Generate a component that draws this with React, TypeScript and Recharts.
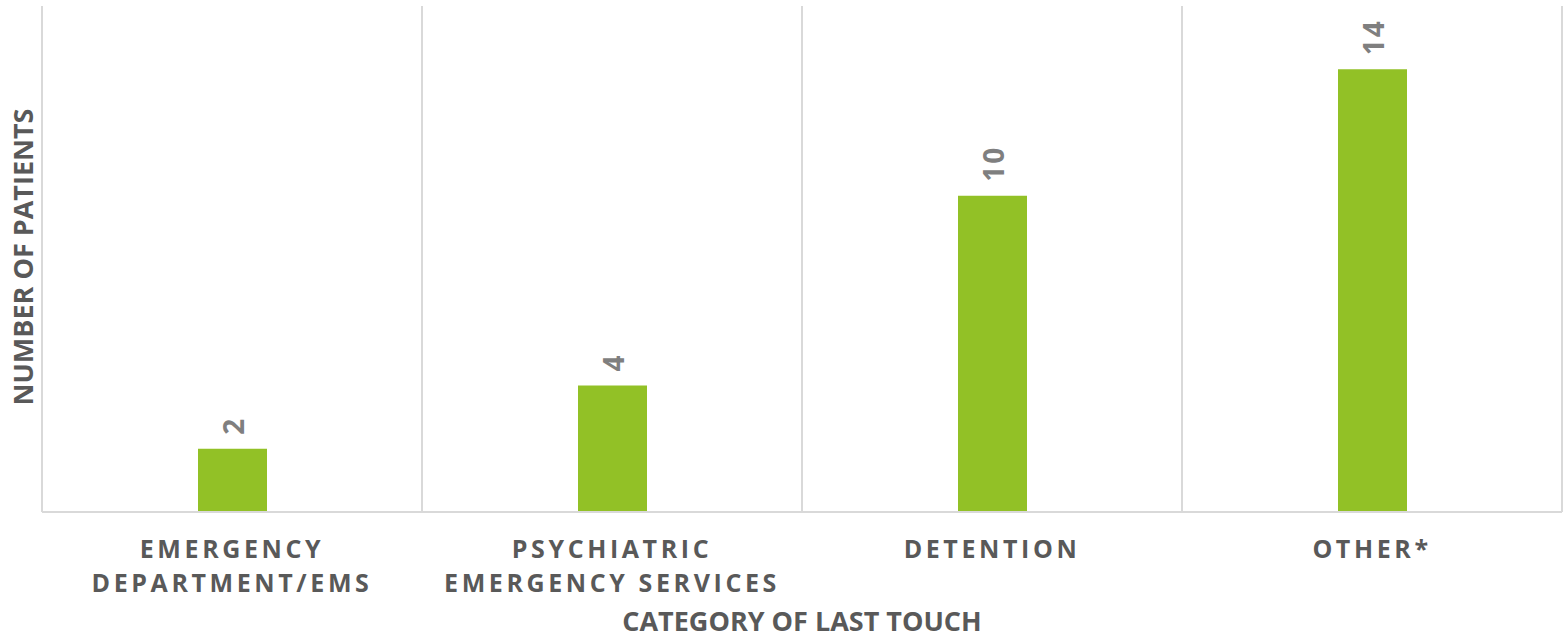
import React from "react";
import { BarChart, Bar, XAxis, YAxis, CartesianGrid, LabelList, Label } from "recharts";

const categories = ["EMERGENCY\nDEPARTMENT/EMS", "PSYCHIATRIC\nEMERGENCY SERVICES", "DETENTION", "OTHER*"];
const patients = [2, 4, 10, 14];
const yDomain = [0, 16];

const data = categories.map((c, i) => ({ name: c, value: patients[i] }));

const FONT = "'Open Sans', 'DejaVu Sans', sans-serif";
const GRID = "#d9d9d9";
const TEXT = "#595959";

const CatTick = (props: any) => {
  const { x, y, payload } = props;
  const lines = String(payload.value).split("\n");
  return (
    <g>
      {lines.map((l, i) => (
        <text key={i} x={x} y={y + 38 + i * 34} textAnchor="middle" fill={TEXT}
          style={{ fontFamily: FONT, fontWeight: 700, fontSize: 25, letterSpacing: 3.6 }}>
          {l}
        </text>
      ))}
    </g>
  );
};

const ValueLabel = (props: any) => {
  const { x, y, width, value } = props;
  const cx = x + width / 2;
  const by = y - 14;
  return (
    <text x={cx} y={by} transform={`rotate(-90, ${cx}, ${by})`} textAnchor="start" dominantBaseline="central"
      fill="#7f7f7f" style={{ fontFamily: FONT, fontWeight: 700, fontSize: 28, letterSpacing: 2 }}>
      {value}
    </text>
  );
};

const XTitle = (props: any) => {
  const { viewBox } = props;
  const cx = viewBox.x + viewBox.width / 2;
  return (
    <text x={cx} y={viewBox.y + 119} textAnchor="middle" fill={TEXT}
      style={{ fontFamily: FONT, fontWeight: 700, fontSize: 27 }}>
      CATEGORY OF LAST TOUCH
    </text>
  );
};

const YTitle = (props: any) => {
  const { viewBox } = props;
  const bx = viewBox.x + 33;
  const cy = viewBox.y + viewBox.height / 2 - 2;
  return (
    <text x={bx} y={cy} transform={`rotate(-90, ${bx}, ${cy})`} textAnchor="middle" fill={TEXT}
      style={{ fontFamily: FONT, fontWeight: 700, fontSize: 27 }}>
      NUMBER OF PATIENTS
    </text>
  );
};

const boundaryLines = ({ offset }: any) =>
  Array.from({ length: categories.length + 1 }, (_, i) => offset.left + (offset.width * i) / categories.length);

export default function App() {
  return (
    <div style={{ position: "absolute", left: 0, top: 0, width: 1564, height: 639, background: "#fff" }}>
      <BarChart width={1564} height={639} data={data} margin={{ top: 6, right: 2, bottom: 0, left: 0 }}>
        <CartesianGrid horizontal={false} stroke={GRID} strokeWidth={2} verticalCoordinatesGenerator={boundaryLines} />
        <XAxis dataKey="name" height={127} axisLine={{ stroke: GRID, strokeWidth: 2 }} tickLine={false}
          tick={<CatTick />} interval={0}>
          <Label content={<XTitle />} />
        </XAxis>
        <YAxis width={42} domain={yDomain} tick={false} axisLine={false} tickLine={false}>
          <Label content={<YTitle />} />
        </YAxis>
        <Bar dataKey="value" fill="#92c126" barSize={69} isAnimationActive={false}>
          <LabelList dataKey="value" content={<ValueLabel />} />
        </Bar>
      </BarChart>
    </div>
  );
}
